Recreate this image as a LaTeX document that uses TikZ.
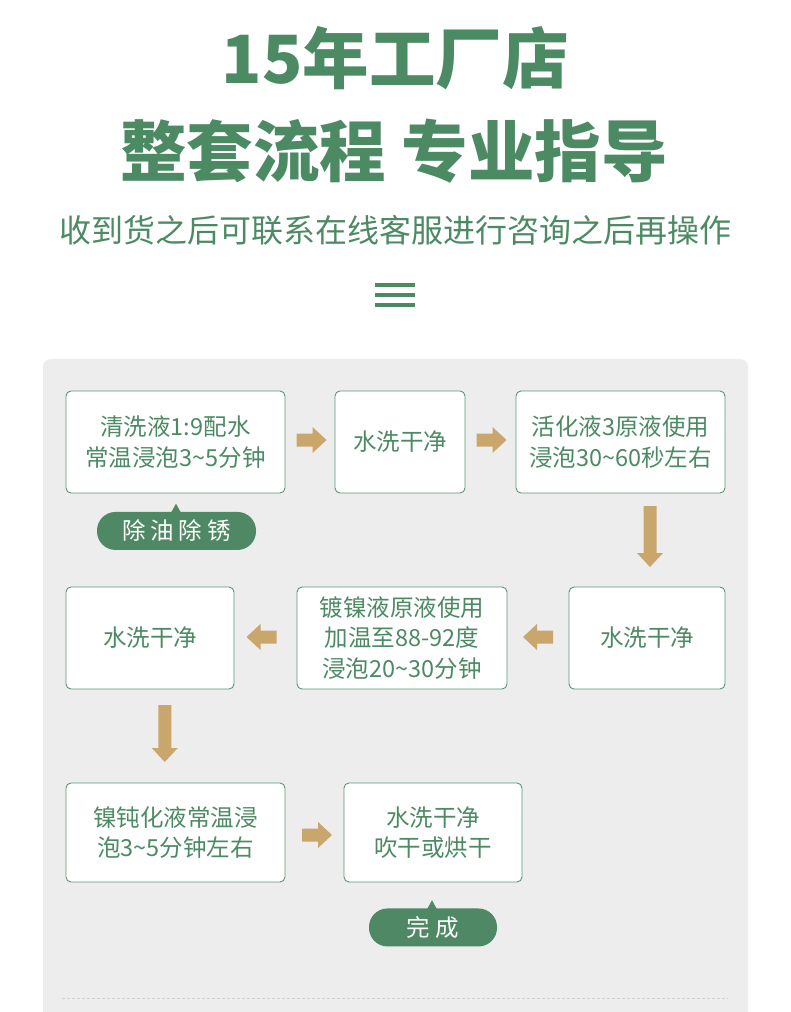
\documentclass[tikz,border=0pt]{standalone}
\usepackage{fontspec}
\setmainfont{Noto Sans CJK SC}
\usetikzlibrary{calc}
\definecolor{grn}{HTML}{4C8A64}
\definecolor{boxc}{HTML}{5B9674}
\definecolor{tagc}{HTML}{4E8864}
\definecolor{arrowc}{HTML}{C9A66C}
\definecolor{panel}{HTML}{EDEDED}
\definecolor{dashc}{HTML}{CFCFCF}
\tikzset{
  stepbox/.style={draw=boxc, fill=white, line width=0.9pt, rounded corners=5pt,
    align=center, inner sep=0pt, text=grn, font=\fontsize{23.5}{30.5}\selectfont},
  tagbox/.style={fill=tagc, rounded corners=18.5pt, inner sep=0pt, text=white,
    minimum height=38pt, font=\fontsize{23.5}{26}\selectfont},
  pics/barrow/.style={code={
    \fill[arrowc] (-#1,-6.5) -- (#1-14,-6.5) -- (#1-14,-13) -- (#1,0)
      -- (#1-14,13) -- (#1-14,6.5) -- (-#1,6.5) -- cycle;}}
}
\begin{document}
\begin{tikzpicture}[x=1pt,y=-1pt]
\useasboundingbox (0,0) rectangle (790,1012);
\fill[white] (0,0) rectangle (790,1012);
\fill[panel, rounded corners=8pt] (43,359) rectangle (748,1030);
\fill[panel] (43,1000) rectangle (748,1012);

% titles
\node[text=grn, font=\fontsize{66.5}{70}\selectfont\bfseries] (t1) at (395,58) {15年工厂店};
\node[text=grn, font=\fontsize{66.5}{70}\selectfont\bfseries] (t2) at (394,151) {整套流程 专业指导};
\node[text=grn, font=\fontsize{32}{36}\selectfont] (t3) at (395.5,230) {收到货之后可联系在线客服进行咨询之后再操作};

% menu icon
\coordinate (m) at (395,295);
\foreach \dy in {-10,0,10}
  \draw[grn, line width=3.6pt] ($(m)+(-20,\dy)$) -- ($(m)+(20,\dy)$);

% boxes
\node[stepbox, minimum width=219pt, minimum height=102pt] (b1) at (175.5,442) {清洗液1:9配水\\常温浸泡3\textasciitilde5分钟};
\node[stepbox, minimum width=130pt, minimum height=102pt] (b2) at (400,442) {水洗干净};
\node[stepbox, minimum width=209pt, minimum height=102pt] (b3) at (620.5,442) {活化液3原液使用\\浸泡30\textasciitilde60秒左右};
\node[stepbox, minimum width=168pt, minimum height=102pt] (b4) at (150,638) {水洗干净};
\node[stepbox, minimum width=210pt, minimum height=102pt] (b5) at (402,638) {镀镍液原液使用\\加温至88-92度\\浸泡20\textasciitilde30分钟};
\node[stepbox, minimum width=156pt, minimum height=102pt] (b6) at (647,638) {水洗干净};
\node[stepbox, minimum width=219pt, minimum height=99pt] (b7) at (175.5,832.5) {镍钝化液常温浸\\泡3\textasciitilde5分钟左右};
\node[stepbox, minimum width=178pt, minimum height=99pt] (b8) at (433,832.5) {水洗干净\\吹干或烘干};

% block arrows
\pic at ($(b1.east)!0.5!(b2.west)+(1.5,-2)$) {barrow=15};
\pic at ($(b2.east)!0.5!(b3.west)+(1,-2)$) {barrow=15};
\pic[rotate=-90] at ($(b3.south -| b6.north)!0.5!(b6.north)+(3,-3.5)$) {barrow=30.5};
\pic[rotate=180] at ($(b6.west)!0.5!(b5.east)+(0,-1)$) {barrow=15};
\pic[rotate=180] at ($(b5.west)!0.5!(b4.east)+(-4,-1)$) {barrow=15};
\pic[rotate=-90] at ($(b4.south)!0.5!(b7.north)+(2,-2.5)$) {barrow=28.5};
\pic at ($(b7.east)!0.5!(b8.west)+(2.5,2.5)$) {barrow=15};

% tags
\node[tagbox, minimum width=159pt] (g1) at ($(b1.south)+(1,37.5)$) {除\hspace{5pt}油\hspace{5pt}除\hspace{5pt}锈};
\fill[tagc] ($(g1.north)+(-5.5,1)$) -- ($(g1.north)+(-0.5,-8)$) -- ($(g1.north)+(4.5,1)$) -- cycle;
\node[tagbox, minimum width=128pt] (g2) at ($(b8.south)+(0,45)$) {完\hspace{6pt}成};
\fill[tagc] ($(g2.north)+(-6,1)$) -- ($(g2.north)+(-1,-8)$) -- ($(g2.north)+(4,1)$) -- cycle;

% dashed line
\coordinate (d1) at (62,998);
\coordinate (d2) at (728,998);
\draw[dashc, line width=1pt, dash pattern=on 3pt off 2pt] (d1) -- (d2);
\end{tikzpicture}
\end{document}
